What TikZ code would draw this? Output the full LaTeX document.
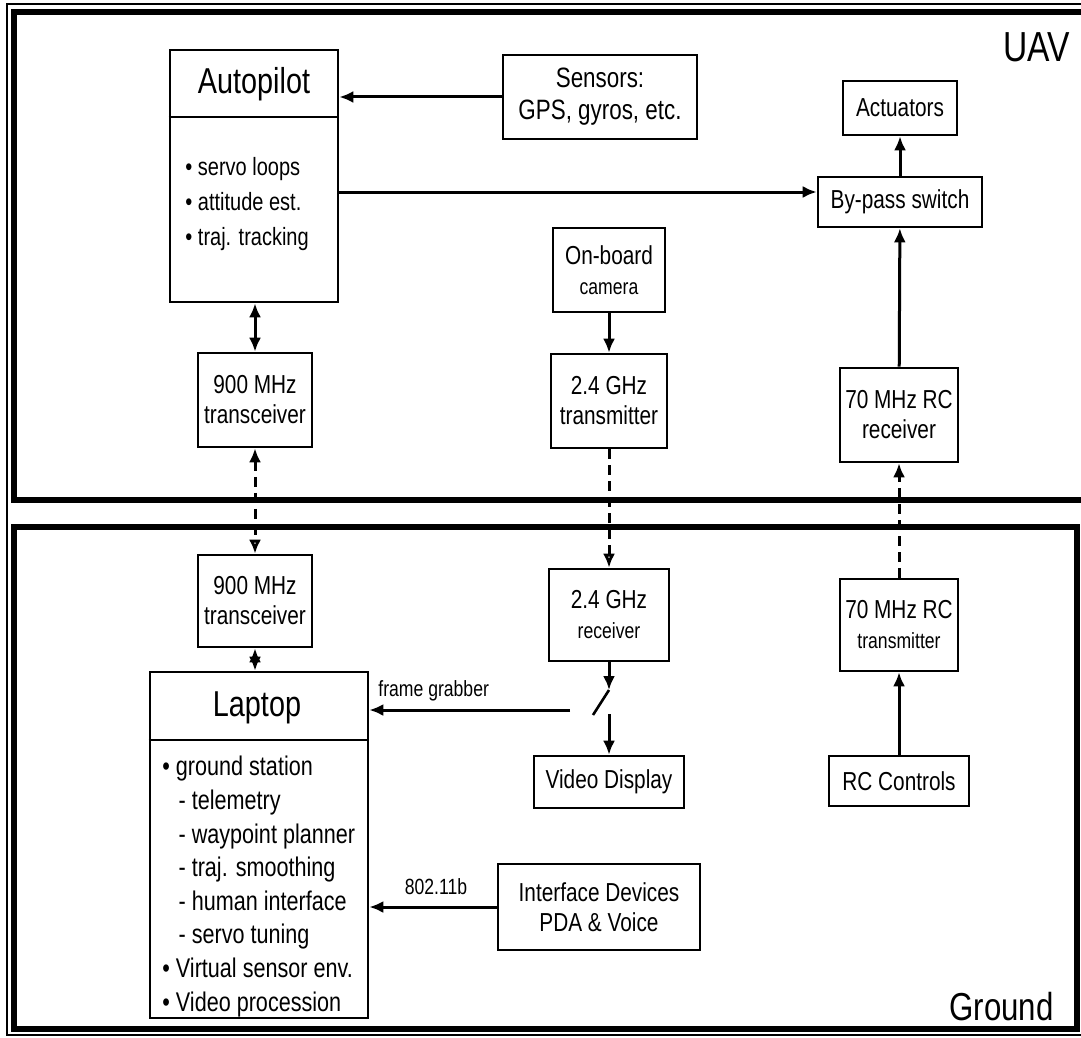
\documentclass[tikz,border=0pt]{standalone}
\usepackage{fontspec}
\setmainfont{Liberation Sans}[FakeStretch=0.8]
\usetikzlibrary{arrows.meta}

\tikzset{
  blockbox/.style={draw, line width=1.3pt, align=center, inner sep=1pt, font=\fontsize{13}{15}\selectfont},
  zone/.style={line width=3pt},
  feed/.style={line width=1.5pt, -{Latex[length=7pt,width=6pt]}},
  duplex/.style={line width=1.5pt, {Latex[length=7pt,width=6pt]}-{Latex[length=7pt,width=6pt]}},
  radio/.style={line width=1.5pt, dash pattern=on 5pt off 3pt},
  tag/.style={font=\fontsize{11}{13}\selectfont, inner sep=0pt},
  listing/.style={align=left, inner sep=0pt, anchor=north west},
}

\begin{document}
\begin{tikzpicture}[x=0.5pt, y=-0.5pt]
        \useasboundingbox (0,0) rectangle (1081,1038);
        % frames
        \draw[line width=0.7pt] (7,4) rectangle (1100,1035);
        \draw[zone] (14,12) rectangle (1095,500);
        \draw[zone] (14,527) rectangle (1077,1029);
        \node[anchor=north east, font=\fontsize{21}{24}\selectfont, inner sep=0pt] (uav) at (1070,32) {UAV};
        \node[anchor=south east, font=\fontsize{19.5}{22}\selectfont, inner sep=0pt] (gnd) at (1054,1021) {Ground};

        % on board
        \node[blockbox, minimum width=84pt, minimum height=126pt] (ap) at (254,176) {};
        \node[font=\fontsize{18}{20}\selectfont] (aptitle) at (254,84) {Autopilot};
        \draw[line width=1.2pt] (ap.west |- 0,117) -- (ap.east |- 0,117);
        \node[listing, font=\fontsize{12.5}{17.5}\selectfont] (aplist) at (185,157)
            {• servo loops\\• attitude est.\\• traj. tracking};
        \node[blockbox, minimum width=97pt, minimum height=42pt, font=\fontsize{14}{16}\selectfont] (sens) at (600,97) {Sensors:\\GPS, gyros, etc.};
        \node[blockbox, minimum width=57pt, minimum height=27pt] (act) at (900,108) {Actuators};
        \node[blockbox, minimum width=82pt, minimum height=25pt] (byp) at (900,202) {By-pass switch};
        \node[blockbox, minimum width=56pt, minimum height=42pt] (cam) at (609,270) {On-board\\{\fontsize{11}{13}\selectfont camera}};
        \node[blockbox, minimum width=58pt, minimum height=47pt] (tx24) at (609,401) {2.4 GHz\\transmitter};
        \node[blockbox, minimum width=57pt, minimum height=47pt] (tr1) at (255,400) {900 MHz\\transceiver};
        \node[blockbox, minimum width=59pt, minimum height=47pt] (rx70) at (899,415) {70 MHz RC\\receiver};

        % ground
        \node[blockbox, minimum width=57pt, minimum height=46pt] (tr2) at (255,601) {900 MHz\\transceiver};
        \node[blockbox, minimum width=109pt, minimum height=173pt] (lap) at (259,845) {};
        \node[font=\fontsize{18}{20}\selectfont] (laptitle) at (257,708) {Laptop};
        \draw[line width=1.2pt] (lap.west |- 0,740) -- (lap.east |- 0,740);
        \node[listing, font=\fontsize{13.5}{16.8}\selectfont] (laplist) at (162,756)
            {• ground station\\
             \hspace*{0.6em}- telemetry\\
             \hspace*{0.6em}- waypoint planner\\
             \hspace*{0.6em}- traj. smoothing\\
             \hspace*{0.6em}- human interface\\
             \hspace*{0.6em}- servo tuning\\
             • Virtual sensor env.\\
             • Video procession};
        \node[blockbox, minimum width=60pt, minimum height=46pt] (rx24) at (609,615) {2.4 GHz\\{\fontsize{11}{13}\selectfont receiver}};
        \node[blockbox, minimum width=75pt, minimum height=26pt] (vid) at (609,782) {Video Display};
        \node[blockbox, minimum width=59pt, minimum height=46pt] (tx70) at (899,625) {70 MHz RC\\{\fontsize{11}{13}\selectfont transmitter}};
        \node[blockbox, minimum width=70pt, minimum height=25pt] (rcc) at (899,781) {RC Controls};
        \node[blockbox, minimum width=101pt, minimum height=43pt] (ifd) at (599,907) {Interface Devices\\PDA \& Voice};
        \node[tag, anchor=west] (fglab) at (378,691) {frame grabber};
        \node[tag] (wifilab) at (436,887) {802.11b};

        % switch
        \coordinate (swtop) at (609,690);
        \coordinate (swend) at (593,715);
        \coordinate (fg) at (570,710);
        \coordinate (swout) at (609,714);

        % links
        \draw[feed] (sens.west) -- (ap.east |- sens.west);
        \draw[feed] (ap.east |- 0,192) -- (byp.west |- 0,192);
        \draw[feed] (byp) -- (act);
        \draw[feed] (rx70) -- (byp);
        \draw[feed] (cam) -- (tx24);
        \draw[duplex] (ap.south -| tr1.north) -- (tr1.north);
        \draw[radio, {Latex[length=7pt,width=6pt]}-{Latex[open,length=7pt,width=6pt]}] (tr1) -- (tr2);
        \draw[radio, -{Latex[open,length=7pt,width=6pt]}] (tx24) -- (rx24);
        \draw[radio, -{Latex[length=7pt,width=6pt]}] (tx70) -- (rx70);
        \draw[feed] (rcc) -- (tx70);
        \draw[duplex] (tr2.south) -- (lap.north -| tr2.south);
        \draw[feed] (rx24.south) -- (swtop);
        \draw[line width=1.3pt] (swtop) -- (swend);
        \draw[feed] (fg) -- (lap.east |- fg);
        \draw[feed] (swout) -- (vid.north -| swout);
        \draw[feed] (ifd) -- (lap.east |- ifd);
    \end{tikzpicture}
\end{document}
